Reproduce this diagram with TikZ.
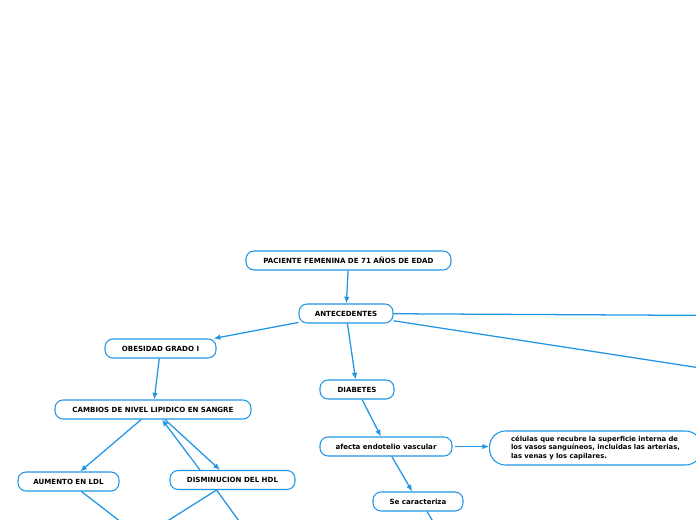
\documentclass[tikz,border=0pt]{standalone}
\usepackage{fontspec}
\setmainfont{DejaVu Sans}
\usepackage{tikz}
\usetikzlibrary{arrows.meta,positioning,calc}
\definecolor{Link}{RGB}{33,150,229}
\tikzset{
  topic/.style={draw=Link, line width=0.8pt, rounded corners=6pt, fill=white,
    minimum height=14.25pt, inner sep=1pt, font=\fontsize{5.3pt}{6.4pt}\selectfont\bfseries},
  arr/.style={draw=Link, line width=0.95pt, -{Latex[length=5pt,width=4.2pt]}},
  lnk/.style={draw=Link, line width=0.95pt}
}
\begin{document}
\begin{tikzpicture}[x=0.75pt, y=-0.75pt]
    \useasboundingbox (0,0) rectangle (696,520);
    \clip (0,0) rectangle (696,520);
    % main nodes
    \node[topic, minimum width=153.75pt] (paciente) at (348.5,260.5) {PACIENTE FEMENINA DE 71 AÑOS DE EDAD};
    \node[topic, minimum width=70.5pt] (ante) at (346,313.5) {ANTECEDENTES};
    \node[topic, minimum width=83.25pt] (obes) at (160.5,348.5) {OBESIDAD GRADO I};
    \node[topic, minimum width=147pt] (cambios) at (153,409.5) {CAMBIOS DE NIVEL LIPIDICO EN SANGRE};
    \node[topic, minimum width=75.75pt] (ldl) at (68.5,481.5) {AUMENTO EN LDL};
    \node[topic, minimum width=93.75pt] (hdl) at (232.5,480) {DISMINUCION DEL HDL};
    \node[topic, minimum width=55.5pt] (diab) at (357,389.5) {DIABETES};
    \node[topic, minimum width=99pt] (endo) at (386,446.5) {afecta endotelio vascular};
    \node[topic, anchor=west, rounded corners=12pt, inner xsep=0pt, inner ysep=3pt,
      minimum width=159pt, align=left, font=\fontsize{5.1pt}{6.5pt}\selectfont\bfseries] (celulas) at (489,448)
      {\hspace*{14pt}\begin{tabular}{@{}l@{}}células que recubre la superficie interna de\\
        los vasos sanguíneos, incluidas las arterias,\\
        las venas y los capilares.\end{tabular}\hspace*{14pt}};
    \node[topic, minimum width=67.5pt] (caract) at (418,501.5) {Se caracteriza};
    % free ends past the page
    \coordinate (offA) at (720,315.5);
    \coordinate (offB) at (720,371);
    \coordinate (offC) at (130,529);
    \coordinate (offD) at (150,532);
    \coordinate (offE) at (247,532);
    \coordinate (offF) at (437,528);
    % connectors
    \draw[arr] (paciente) -- (ante);
    \draw[arr] (ante) -- (obes);
    \draw[arr] (ante) -- (diab);
    \draw[lnk] (ante) -- (offA);
    \draw[lnk] (ante) -- (offB);
    \draw[arr] (obes) -- (cambios);
    \draw[arr] (cambios) -- (ldl);
    \draw[arr] ($(cambios.south)+(12,0)$) -- ($(hdl.north)+(-12.5,0)$);
    \draw[arr] ($(hdl.north)+(-32.5,0)$) -- ($(cambios.south)+(9,0)$);
    \draw[lnk] (ldl) -- (offC);
    \draw[lnk] ($(hdl.south)+(-16,0)$) -- (offD);
    \draw[lnk] ($(hdl.south)+(-16,0)$) -- (offE);
    \draw[arr] (diab) -- (endo);
    \draw[arr, shorten <=2pt] (endo.east) -- (celulas.west |- endo.east);
    \draw[arr] (endo) -- (caract);
    \draw[lnk] ($(caract.south)+(9,0)$) -- (offF);
  \end{tikzpicture}
\end{document}
